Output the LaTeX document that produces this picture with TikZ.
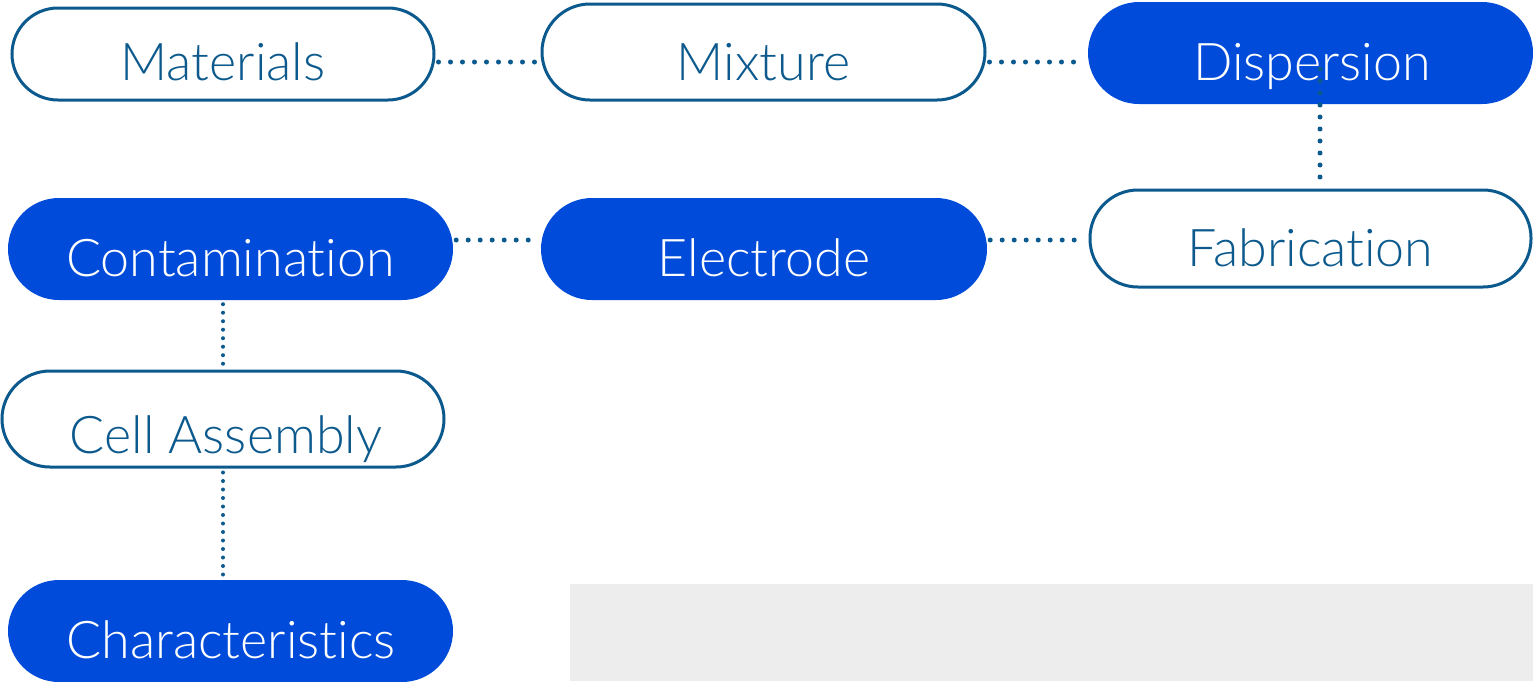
\documentclass[tikz,border=0pt]{standalone}
\usepackage{fontspec}
\setmainfont{Lato}[UprightFont={* Light}, Ligatures={NoCommon}]
\definecolor{stroke}{HTML}{0C5A8D}
\definecolor{brand}{HTML}{004BDA}
\definecolor{panel}{HTML}{EDEDED}
\tikzset{
  pill/.style={rectangle, rounded corners=#1, minimum width=0pt, inner sep=0pt},
  openpill/.style={draw=stroke, line width=3pt, fill=white},
  solidpill/.style={fill=brand},
  lbl/.style={anchor=base, font=\fontsize{52}{52}\selectfont, inner sep=0pt},
  openlbl/.style={lbl, text=stroke},
  solidlbl/.style={lbl, text=white},
  dots/.style={draw=stroke, line width=5pt, line cap=round, dash pattern=on 0pt off 12pt,
               shorten <=3pt, shorten >=3pt},
  finedots/.style={draw=stroke, line width=4pt, line cap=round, dash pattern=on 0pt off 8.5pt,
               shorten <=4pt, shorten >=4pt},
}
\begin{document}
\begin{tikzpicture}[x=1pt, y=-1pt]
  \useasboundingbox (0,0) rectangle (1533,681);
  % grey panel, lower right
  \fill[panel] (570,584) rectangle (1533,681);

  % boxes
  \node[pill=46pt, openpill, minimum width=422pt, minimum height=92pt] (mat) at (223,54) {};
  \node[pill=48pt, openpill, minimum width=443pt, minimum height=96pt] (mix) at (763.5,52) {};
  \node[pill=51pt, solidpill, minimum width=445pt, minimum height=102pt] (dsp) at (1310.5,53) {};
  \node[pill=48pt, openpill, minimum width=441pt, minimum height=97pt] (fab) at (1310.5,238.5) {};
  \node[pill=51pt, solidpill, minimum width=446pt, minimum height=102pt] (ele) at (764,249) {};
  \node[pill=51pt, solidpill, minimum width=445pt, minimum height=102pt] (con) at (230.5,249) {};
  \node[pill=48pt, openpill, minimum width=442pt, minimum height=96pt] (cel) at (223,419) {};
  \node[pill=51pt, solidpill, minimum width=445pt, minimum height=102pt] (chr) at (230.5,631) {};

  % dotted connectors
  \draw[dots] (mat.east |- 0,62) -- (mix.west |- 0,62);
  \draw[dots] (mix.east |- 0,62) -- (dsp.west |- 0,62);
  \draw[dots, shorten <=0pt] (1320,70 |- dsp.center) ++(0,16) -- (fab.north -| 1320,0);
  \draw[dots] (ele.east |- 0,240) -- (fab.west |- 0,240);
  \draw[dots] (con.east |- 0,240) -- (ele.west |- 0,240);
  \draw[finedots] (con.south -| 223,0) -- (cel.north -| 223,0);
  \draw[finedots] (cel.south -| 223,0) -- (chr.north -| 223,0);

  % labels
  \node[openlbl]  (matT) at (223,80)    {Materials};
  \node[openlbl]  (mixT) at (763.5,80)  {Mixture};
  \node[solidlbl] (dspT) at (1312,80)   {Dispersion};
  \node[openlbl]  (fabT) at (1310.5,266){Fabrication};
  \node[solidlbl] (eleT) at (764,276)   {Electrode};
  \node[solidlbl] (conT) at (230.5,276) {Contamination};
  \node[openlbl]  (celT) at (226,453)   {Cell Assembly};
  \node[solidlbl] (chrT) at (231,658)   {Characteristics};
\end{tikzpicture}
\end{document}
